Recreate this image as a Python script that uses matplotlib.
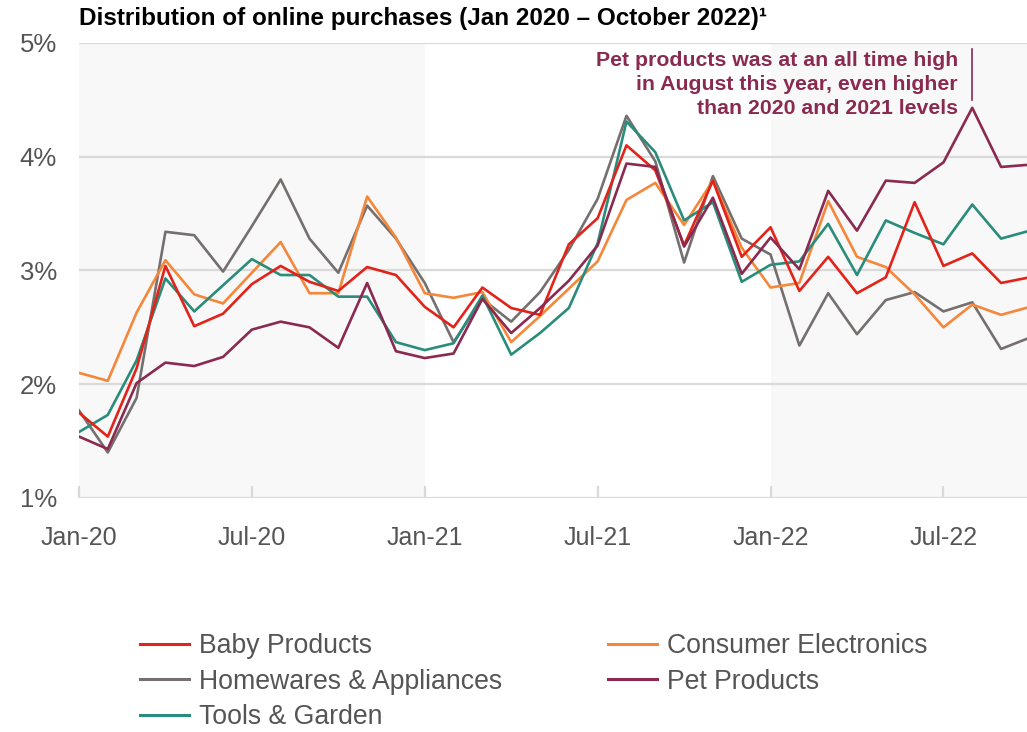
"""
Distribution of online purchases by category, Jan 2020 - Oct 2022
"""

import numpy as np
import matplotlib
matplotlib.use("Agg")
import matplotlib.pyplot as plt
from matplotlib.lines import Line2D

plt.rcParams['font.family'] = ['Liberation Sans', 'DejaVu Sans']

# monthly share of online purchases (%), Jan-20 .. Oct-22
months = ["Jan-20", "Feb-20", "Mar-20", "Apr-20", "May-20", "Jun-20",
          "Jul-20", "Aug-20", "Sep-20", "Oct-20", "Nov-20", "Dec-20",
          "Jan-21", "Feb-21", "Mar-21", "Apr-21", "May-21", "Jun-21",
          "Jul-21", "Aug-21", "Sep-21", "Oct-21", "Nov-21", "Dec-21",
          "Jan-22", "Feb-22", "Mar-22", "Apr-22", "May-22", "Jun-22",
          "Jul-22", "Aug-22", "Sep-22", "Oct-22"]

baby = [1.75, 1.54, 2.14, 3.04, 2.51, 2.62, 2.88, 3.04, 2.90, 2.82, 3.03, 2.96,
        2.68, 2.50, 2.85, 2.67, 2.61, 3.23, 3.46, 4.10, 3.88, 3.22, 3.79, 3.12,
        3.38, 2.82, 3.12, 2.80, 2.94, 3.60, 3.04, 3.15, 2.89, 2.94]
electronics = [2.10, 2.03, 2.63, 3.09, 2.79, 2.71, 2.98, 3.25, 2.80, 2.80, 3.65, 3.29,
               2.80, 2.76, 2.81, 2.37, 2.60, 2.84, 3.08, 3.62, 3.77, 3.40, 3.79, 3.20,
               2.85, 2.89, 3.61, 3.12, 3.03, 2.79, 2.50, 2.70, 2.61, 2.68]
homewares = [1.77, 1.40, 1.88, 3.34, 3.31, 2.99, 3.39, 3.80, 3.28, 2.98, 3.57, 3.28,
             2.89, 2.37, 2.75, 2.55, 2.81, 3.18, 3.63, 4.36, 3.96, 3.07, 3.83, 3.28,
             3.14, 2.34, 2.80, 2.44, 2.74, 2.81, 2.64, 2.72, 2.31, 2.41]
pet = [1.54, 1.43, 2.01, 2.19, 2.16, 2.24, 2.48, 2.55, 2.50, 2.32, 2.89, 2.29,
       2.23, 2.27, 2.75, 2.45, 2.67, 2.91, 3.22, 3.94, 3.91, 3.21, 3.64, 2.97,
       3.29, 3.01, 3.70, 3.35, 3.79, 3.77, 3.95, 4.43, 3.91, 3.93]
tools = [1.58, 1.73, 2.21, 2.93, 2.64, 2.87, 3.10, 2.96, 2.96, 2.77, 2.77, 2.37,
         2.30, 2.36, 2.78, 2.26, 2.45, 2.67, 3.24, 4.31, 4.04, 3.44, 3.60, 2.90,
         3.05, 3.08, 3.41, 2.96, 3.44, 3.33, 3.23, 3.58, 3.28, 3.35]

tick_months = ["Jan-20", "Jul-20", "Jan-21", "Jul-21", "Jan-22", "Jul-22"]
y_ticks = [1, 2, 3, 4, 5]

c_baby = '#e2231a'
c_elec = '#f5873a'
c_home = '#75706f'
c_pet = '#8a2a50'
c_tools = '#2a8c7a'
grid_col = '#dadada'
text_col = '#555555'

x = np.arange(len(months))

fig = plt.figure(figsize=(10.27, 7.32), dpi=100)
ax = fig.add_axes([0.0769, 0.3197, 0.9231, 0.6216])

# shaded years: 2020 and 2022
ax.axvspan(0, months.index("Jan-21"), color='#f8f8f8', zorder=0, lw=0)
ax.axvspan(months.index("Jan-22"), len(months), color='#f8f8f8', zorder=0, lw=0)

for yv in y_ticks:
    ax.axhline(yv, color=grid_col, lw=1.6, zorder=1)

lw = 1.9
ax.plot(x, homewares, color=c_home, lw=lw, zorder=3)
ax.plot(x, electronics, color=c_elec, lw=lw, zorder=3)
ax.plot(x, tools, color=c_tools, lw=lw, zorder=3)
ax.plot(x, baby, color=c_baby, lw=lw, zorder=3)
ax.plot(x, pet, color=c_pet, lw=lw, zorder=3)

ax.set_xlim(0, 32.9)
ax.set_ylim(1, 5)
ax.set_xticks([months.index(m) for m in tick_months])
ax.set_xticklabels(tick_months)
ax.set_yticks(y_ticks)
ax.set_yticklabels(["%d%%" % v for v in y_ticks])
for s in ax.spines.values():
    s.set_visible(False)
ax.tick_params(axis='x', direction='in', length=9, width=1.6, color=grid_col,
               pad=20, labelsize=18, labelcolor=text_col)
ax.tick_params(axis='y', length=0, pad=16, labelsize=18.5, labelcolor=text_col)

# title
fig.text(79 / 1027, 1 - 18 / 732,
         "Distribution of online purchases (Jan 2020 \u2013 October 2022)\u00b9",
         fontsize=17.5, fontweight='bold', color='black', ha='left', va='center')

# note about pet products peak
i_aug = months.index("Aug-22")
ax.text(30.5, 4.635,
        "Pet products was at an all time high\nin August this year, even higher\nthan 2020 and 2021 levels",
        ha='right', va='center', fontsize=15.3, fontweight='bold', color=c_pet,
        linespacing=1.36, zorder=4)
ax.plot([i_aug, i_aug], [4.50, 4.95], color=c_pet, lw=1.2, zorder=4)

# legend in two columns below the chart
def handle(c):
    return Line2D([], [], color=c, lw=2.2)

leg_kw = dict(frameon=False, loc='upper left', fontsize=19.2, labelcolor=text_col,
              handlelength=1.83, handletextpad=0.37, borderpad=0,
              borderaxespad=0, labelspacing=0.36)
fig.legend([handle(c_baby), handle(c_home), handle(c_tools)],
           ["Baby Products", "Homewares & Appliances", "Tools & Garden"],
           bbox_to_anchor=(140 / 1027, 1 - 633 / 732), **leg_kw)
fig.legend([handle(c_elec), handle(c_pet)],
           ["Consumer Electronics", "Pet Products"],
           bbox_to_anchor=(608 / 1027, 1 - 633 / 732), **leg_kw)

fig.savefig("out.png", dpi=100)
